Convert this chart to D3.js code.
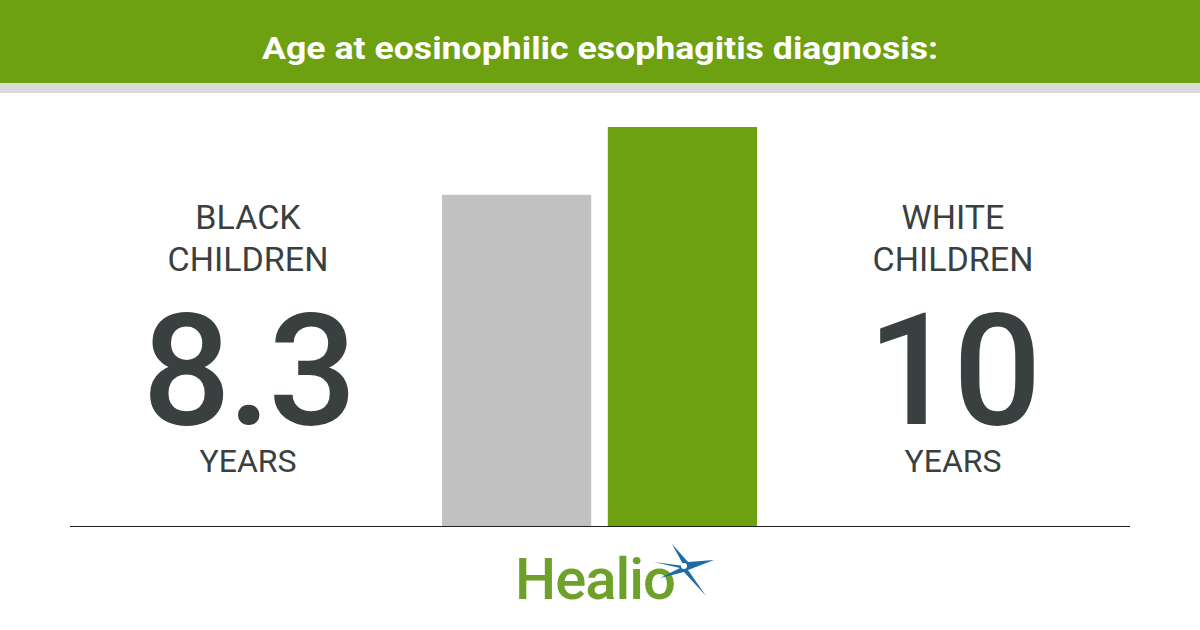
<!DOCTYPE html><html><head><meta charset="utf-8"><script src="https://cdn.jsdelivr.net/npm/d3@7"></script>
<style>body{margin:0}svg{display:block}</style></head><body><svg id="c" width="1200" height="630"></svg>
<script>
const categories=["BLACK CHILDREN","WHITE CHILDREN"];
const values=[8.3,10];
const valueLabels=["8.3","10"];
const colors=["#c1c1c1","#6ea111"];
const svg=d3.select("#c");
svg.append("rect").attr("width",1200).attr("height",630).attr("fill","#fff");
svg.append("rect").attr("width",1200).attr("height",83).attr("fill","#6ea111");
svg.append("rect").attr("y",83).attr("width",1200).attr("height",10).attr("fill","#dadada");
svg.append("text").attr("x",600).attr("y",59).attr("text-anchor","middle").attr("fill","#fff")
 .attr("font-family","Roboto").attr("font-weight","bold").attr("font-size",32)
 .attr("textLength",676).attr("lengthAdjust","spacingAndGlyphs").text("Age at eosinophilic esophagitis diagnosis:");
const x=d3.scaleBand().domain(categories).range([442,757]).paddingInner(0.1);
const y=d3.scaleLinear().domain([0,10]).range([526,127]);
svg.append("line").attr("x1",70).attr("x2",1130).attr("y1",526.5).attr("y2",526.5).attr("stroke","#222").attr("stroke-width",1);
svg.selectAll(".bar").data(values).join("rect").attr("x",(d,i)=>x(categories[i])).attr("width",x.bandwidth())
 .attr("y",d=>y(d)).attr("height",d=>y(0)-y(d)).attr("fill",(d,i)=>colors[i]);
const cx=[248,953];
const tc="#3a3f40";
categories.forEach((c,i)=>{
 const w=c.split(" ");
 const g=svg.append("g").attr("font-family","Roboto").attr("fill",tc).attr("text-anchor","middle");
 g.append("text").attr("x",cx[i]).attr("y",229).attr("font-size",34).text(w[0]);
 g.append("text").attr("x",cx[i]).attr("y",271).attr("font-size",34).text(w[1]);
 g.append("text").attr("x",cx[i]).attr("y",424).attr("font-size",156).attr("font-weight","500").attr("letter-spacing",-3).text(valueLabels[i]);
 g.append("text").attr("x",cx[i]).attr("y",472).attr("font-size",32).text("YEARS");
});
// logo
const lg=svg.append("g");
lg.append("text").attr("x",515).attr("y",599).attr("font-family","Roboto").attr("font-weight","500").attr("font-size",58).attr("fill","#6ea12a").attr("letter-spacing",-1).text("Healio");
const s=lg.append("g").attr("transform","translate(684,566)");
s.append("path").attr("d","M0,0 L-12,-22 L4,-4 L30,-6 L4,4 L22,30 L0,6 L-24,12 L-4,2 L-30,-4 Z").attr("fill","#1f6aa8");
s.append("circle").attr("r",3).attr("fill","#fff");
</script></body></html>
